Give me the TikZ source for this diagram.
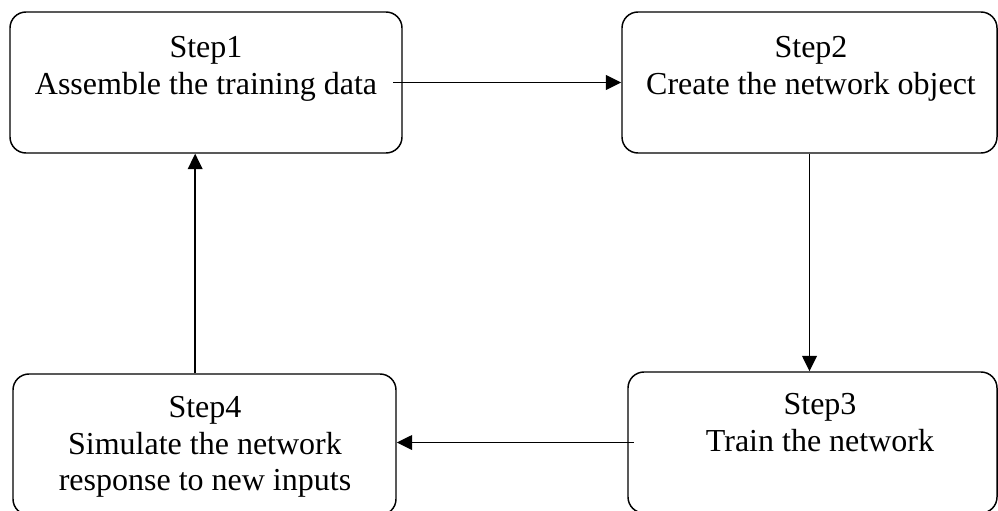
\documentclass[tikz,border=0pt]{standalone}
\usepackage{fontspec}
\setmainfont{Liberation Serif}
\usetikzlibrary{arrows.meta}

\begin{document}
\begin{tikzpicture}[x=0.75pt,y=0.75pt,yscale=-1,xscale=1,
  stepbox/.style={draw, line width=1.1pt, rounded corners=12pt, minimum height=105.75pt, inner sep=0pt},
  steptext/.style={anchor=north, align=center, inner sep=0pt, font=\fontsize{24}{27.5}\selectfont},
  flow/.style={line width=1.1pt, -{Triangle[length=11.5pt,width=11pt]}}]
%set diagram size to 998 x 510
\useasboundingbox (0,0) rectangle (998,510);

%Flowchart: Process
\node [stepbox, minimum width=294pt] (s1) at (206,82.5) {};
%Flowchart: Process
\node [stepbox, minimum width=281.25pt] (s2) at (809.5,82.5) {};
%Flowchart: Process
\node [stepbox, minimum width=276.75pt] (s3) at (812.5,442.5) {};
%Flowchart: Process
\node [stepbox, minimum width=287.25pt] (s4) at (204.5,444.5) {};

%Straight Lines
\draw [flow] ([xshift=-7pt]s1.east) -- (s2.west);
%Straight Lines
\draw [flow] (s2.south) -- (s2.south |- s3.north);
%Straight Lines
\draw [flow] ([xshift=5pt]s3.west) -- (s3.west -| s4.east);
%Straight Lines
\draw [flow] ([xshift=-7pt]s4.north) -- ([xshift=-7pt]s4.north |- s1.south);

% Text Node
\node [steptext] (t1) at (206,36) {Step1\\Assemble the training data};
% Text Node
\node [steptext] (t2) at (811,36) {Step2\\Create the network object};
% Text Node
\node [steptext] (t3) at (820,393) {Step3\\Train the network};
% Text Node
\node [steptext] (t4) at (205,396) {Step4\\Simulate the network\\response to new inputs};

\end{tikzpicture}
\end{document}
